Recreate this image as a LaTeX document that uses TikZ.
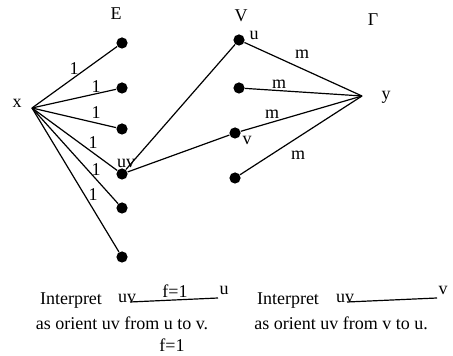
\documentclass[tikz,border=0pt]{standalone}
\usepackage{fontspec}
\setmainfont{Liberation Serif}
\usetikzlibrary{positioning}

\begin{document}
\begin{tikzpicture}[
  x=.5pt,
  y=-.5pt,
  dot/.style={
    circle,
    fill=black,
    inner sep=0pt,
    minimum size=5.6pt
  },
  lbl/.style={
    font=\fontsize{9}{11}\selectfont,
    inner sep=0pt
  },
  edge/.style={line width=.6pt}
]
\useasboundingbox (0,0) rectangle (453,356);

% column headers
\node[lbl] (E) at (116,14) {E};
\node[lbl] (V) at (241,16) {V};
\node[lbl] (G) at (373,20) {Γ};

% edge column
\node[dot] (e1) at (122,43) {};
\node[dot] (e2) at (122,88) {};
\node[dot] (e3) at (122,129) {};
\node[dot] (uv) at (122,174) {};
\node[dot] (e5) at (122,208) {};
\node[dot] (e6) at (122,257) {};

% vertex column
\node[dot] (u)  at (239,40) {};
\node[dot] (v2) at (239,88) {};
\node[dot] (v)  at (235,133) {};
\node[dot] (v4) at (235,178) {};

\coordinate (x) at (32,108);
\coordinate (y) at (362,96);
\node[lbl] (xl) at (17,103) {x};
\node[lbl] (yl) at (386,97) {y};
\node[lbl] (uvl) at (126,163) {uv};
\node[lbl] (ul) at (254,35) {u};
\node[lbl] (vl) at (247,140) {v};

\foreach \e in {e1,e2,e3,uv,e5,e6}
  \draw[edge] (x) -- (\e);
\foreach \w in {u,v2,v,v4}
  \draw[edge] (\w) -- (y);
\draw[edge] (uv) -- (u);
\draw[edge] (uv) -- (v);

% capacities
\node[lbl] at (74,69) {1};
\node[lbl] at (96,87) {1};
\node[lbl] at (96,113) {1};
\node[lbl] at (93,143) {1};
\node[lbl] at (96,170) {1};
\node[lbl] at (93,195) {1};
\node[lbl] at (302,54) {m};
\node[lbl] at (279,84) {m};
\node[lbl] at (272,114) {m};
\node[lbl] at (298,155) {m};

% legend, left
\node[lbl] (int1) at (71,301) {Interpret};
\node[lbl] (uv1) at (127,298) {uv};
\coordinate (a1) at (130,302);
\coordinate (b1) at (218,298);
\draw[edge] (a1) -- (b1);
\node[lbl] (f1) at (175,291) {f=1};
\node[lbl] (u1) at (224,290) {u};
\node[lbl] (txt1) at (122,323) {as orient uv from u to v.};
\node[lbl] (f2) at (172,345) {f=1};

% legend, right
\node[lbl] (int2) at (288,301) {Interpret};
\node[lbl] (uv2) at (345,298) {uv};
\coordinate (a2) at (347,302);
\coordinate (b2) at (437,298);
\draw[edge] (a2) -- (b2);
\node[lbl] (v2l) at (443,290) {v};
\node[lbl] (txt2) at (341,323) {as orient uv from v to u.};
\end{tikzpicture}
\end{document}
